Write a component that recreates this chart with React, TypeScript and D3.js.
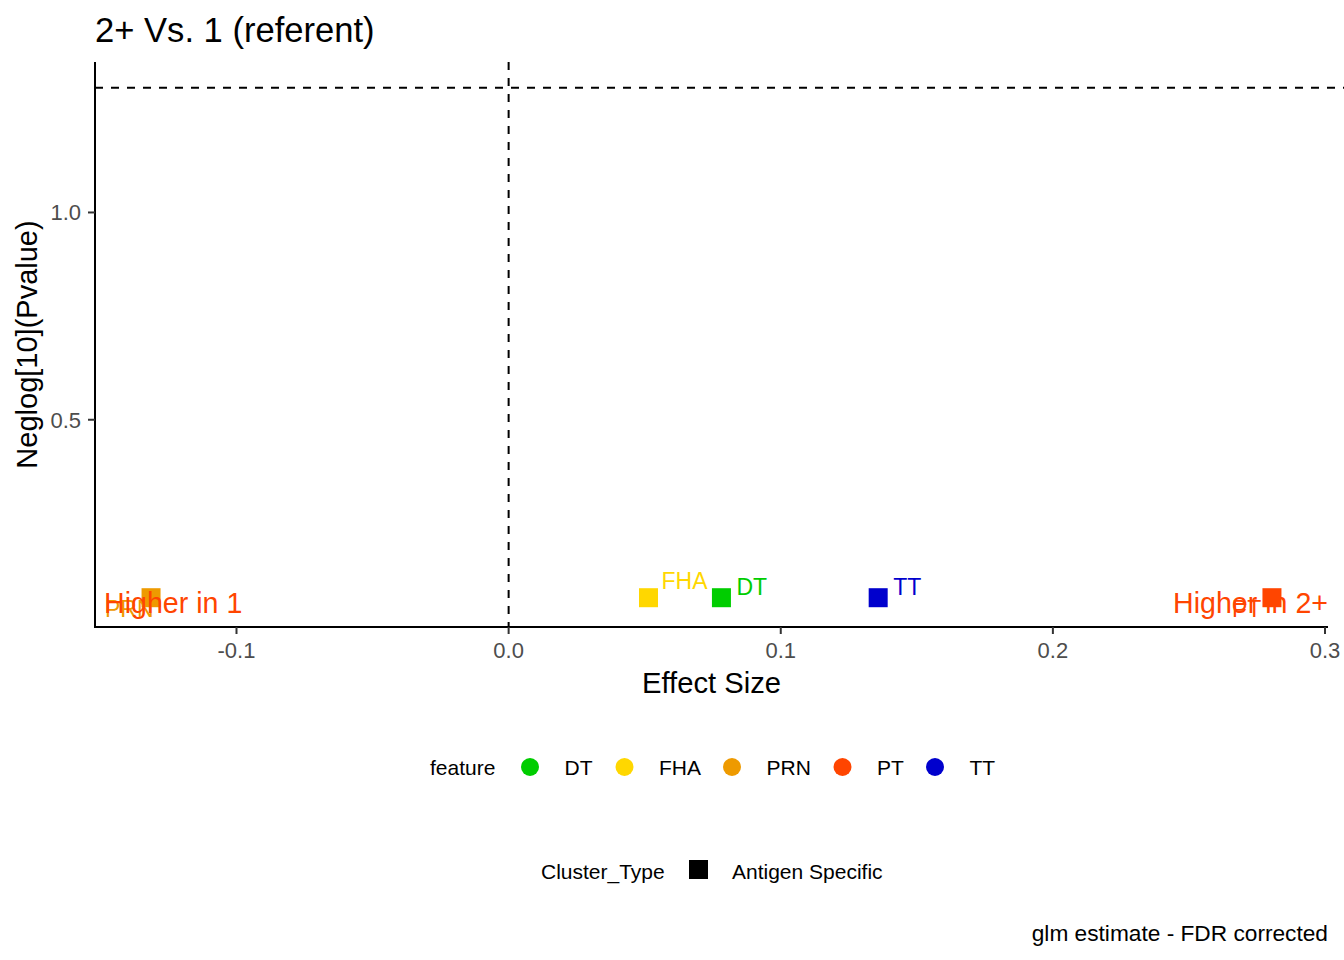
import React from "react";
import * as d3 from "d3";

// ---- data ----
const features = ["DT", "FHA", "PRN", "PT", "TT"];
const effectSize = [0.0782, 0.0514, -0.1314, 0.2805, 0.1358];
const neglogP = [0.0707, 0.0707, 0.0707, 0.0707, 0.0707];
const featureColors = ["#00CD00", "#FFD700", "#EE9A00", "#FF4500", "#0000CD"];
const xTicks = [-0.1, 0.0, 0.1, 0.2, 0.3];
const yTicks = [0.5, 1.0];
const threshold = -Math.log10(0.05);
const annotationY = 0.062;
const clusterTypes = ["Antigen Specific"];

// ---- layout ----
const W = 1344;
const H = 960;
const panel = { left: 95, right: 1328, top: 62, bottom: 627 };
const FONT = "'Liberation Sans', Arial, Helvetica, sans-serif";

// repel-style label offsets (pixels from point centre: text start, baseline)
const labelOffsets: Record<string, [number, number]> = {
  DT: [15, -3],
  FHA: [13, -9],
  PRN: [-46, 19],
  PT: [-40, 19],
  TT: [15, -3],
};

// legend layout
const legendY = 767;
const legendItemX: Record<string, number> = { DT: 530, FHA: 624.5, PRN: 732, PT: 842.5, TT: 935 };

function expand(lo: number, hi: number, m = 0.05): [number, number] {
  const r = hi - lo;
  return [lo - r * m, hi + r * m];
}

const fmtTick = (t: number) => d3.format(".1f")(t).replace("\u2212", "-");

export default function App() {
  const x = d3
    .scaleLinear()
    .domain(expand(d3.min(effectSize)!, d3.max(effectSize)!))
    .range([panel.left, panel.right]);
  const y = d3
    .scaleLinear()
    .domain(expand(annotationY, threshold))
    .range([panel.bottom, panel.top]);

  const sq = 19;

  return (
    <svg
      width={W}
      height={H}
      style={{ position: "absolute", left: 0, top: 0, background: "#fff" }}
      fontFamily={FONT}
    >
      <rect x={0} y={0} width={W} height={H} fill="#fff" />
      {/* title */}
      <text x={95} y={41.5} fontSize={34.6} fill="#000">
        2+ Vs. 1 (referent)
      </text>

      <defs>
        <clipPath id="panelClip">
          <rect x={panel.left} y={panel.top} width={panel.right - panel.left + 16} height={panel.bottom - panel.top} />
        </clipPath>
      </defs>

      <g clipPath="url(#panelClip)">
        {/* reference lines */}
        <line
          x1={panel.left}
          x2={W}
          y1={y(threshold)}
          y2={y(threshold)}
          stroke="#000"
          strokeWidth={2}
          strokeDasharray="8 8"
        />
        <line
          x1={x(0)}
          x2={x(0)}
          y1={panel.top}
          y2={panel.bottom}
          stroke="#000"
          strokeWidth={2}
          strokeDasharray="8 8"
        />
        {/* points */}
        {features.map((f, i) => (
          <rect
            key={f}
            x={x(effectSize[i]) - sq / 2}
            y={y(neglogP[i]) - sq / 2}
            width={sq}
            height={sq}
            fill={featureColors[i]}
          />
        ))}
        {/* labels */}
        {features.map((f, i) => (
          <text
            key={"l" + f}
            x={x(effectSize[i]) + labelOffsets[f][0]}
            y={y(neglogP[i]) + labelOffsets[f][1]}
            fontSize={23}
            fill={featureColors[i]}
          >
            {f}
          </text>
        ))}
        {/* annotations */}
        <text x={panel.left + 9} y={613} fontSize={28.6} fill="#FF4500">
          Higher in 1
        </text>
        <text x={panel.right} y={613} fontSize={28.6} fill="#FF4500" textAnchor="end">
          Higher in 2+
        </text>
      </g>

      {/* axes */}
      <line x1={panel.left} x2={panel.left} y1={panel.top} y2={panel.bottom + 1} stroke="#000" strokeWidth={2} />
      <line x1={panel.left - 1} x2={panel.right} y1={panel.bottom} y2={panel.bottom} stroke="#000" strokeWidth={2} />

      {xTicks.map((t) => (
        <g key={"xt" + t}>
          <line x1={x(t)} x2={x(t)} y1={panel.bottom} y2={panel.bottom + 7} stroke="#333" strokeWidth={2} />
          <text x={x(t)} y={658} fontSize={22} fill="#4D4D4D" textAnchor="middle">
            {fmtTick(t)}
          </text>
        </g>
      ))}
      {yTicks.map((t) => (
        <g key={"yt" + t}>
          <line x1={panel.left - 7} x2={panel.left} y1={y(t)} y2={y(t)} stroke="#333" strokeWidth={2} />
          <text x={81} y={y(t) + 7.8} fontSize={22} fill="#4D4D4D" textAnchor="end">
            {fmtTick(t)}
          </text>
        </g>
      ))}

      {/* axis titles */}
      <text x={(panel.left + panel.right) / 2} y={693} fontSize={29.2} textAnchor="middle" fill="#000">
        Effect Size
      </text>
      <text
        transform={`translate(37, ${(panel.top + panel.bottom) / 2}) rotate(-90)`}
        fontSize={29}
        textAnchor="middle"
        fill="#000"
      >
        Neglog[10](Pvalue)
      </text>

      {/* feature legend */}
      <text x={430} y={774.5} fontSize={21} fill="#000">
        feature
      </text>
      {features.map((f, i) => (
        <g key={"lg" + f}>
          <circle cx={legendItemX[f]} cy={legendY} r={9} fill={featureColors[i]} />
          <text x={legendItemX[f] + 34.5} y={774.5} fontSize={21} fill="#000">
            {f}
          </text>
        </g>
      ))}

      {/* cluster type legend */}
      <text x={541} y={878.5} fontSize={21} fill="#000">
        Cluster_Type
      </text>
      {clusterTypes.map((c) => (
        <g key={c}>
          <rect x={689} y={860} width={19} height={19} fill="#000" />
          <text x={732} y={878.5} fontSize={21} fill="#000">
            {c}
          </text>
        </g>
      ))}

      {/* caption */}
      <text x={1328} y={941} fontSize={22.7} textAnchor="end" fill="#000">
        glm estimate - FDR corrected
      </text>
    </svg>
  );
}
